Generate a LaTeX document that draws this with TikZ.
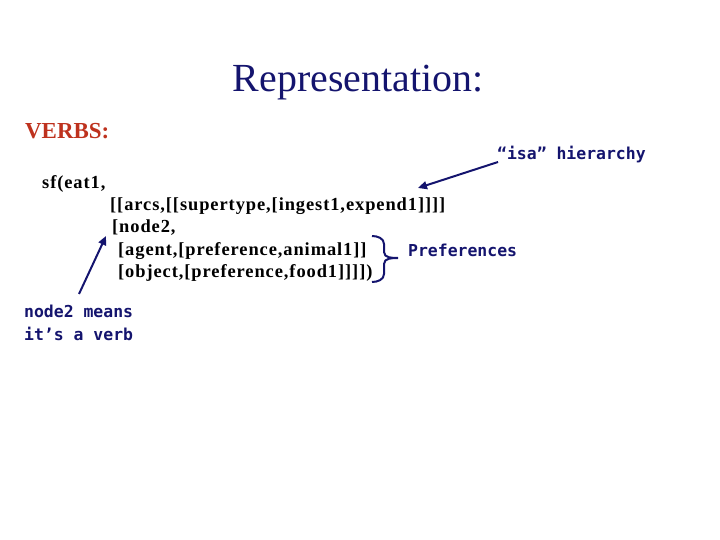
\documentclass[tikz,border=0pt]{standalone}
\usepackage{fontspec}
\setmainfont{Liberation Serif}
\newfontfamily\codefont[LetterSpace=5]{Liberation Serif}
\newfontfamily\annfont{DejaVu Sans Mono}
\usetikzlibrary{arrows.meta}
\definecolor{navy}{RGB}{20,20,110}
\definecolor{verbred}{RGB}{190,50,30}
\tikzset{code/.style={anchor=west,inner sep=0,font=\codefont\bfseries\fontsize{18.5}{20}\selectfont},
ann/.style={anchor=west,inner sep=0,text=navy,font=\annfont\bfseries\fontsize{16.5}{18}\selectfont},
arr/.style={navy,line width=2pt,-{Triangle[length=9pt,width=8pt]}}}
\begin{document}
\begin{tikzpicture}[x=1bp,y=-1bp]
\useasboundingbox (0,0) rectangle (720,540);
\node[inner sep=0,text=navy,font=\fontsize{40}{44}\selectfont] (t) at (358,83) {Representation:};
\node[anchor=west,inner sep=0,text=verbred,font=\bfseries\fontsize{23}{26}\selectfont] (v) at (25,131) {VERBS:};
\node[code] (l1) at (42,184) {sf(eat1,};
\node[code] (l2) at (110,206) {[[arcs,[[supertype,[ingest1,expend1]]]]};
\node[code] (l3) at (112,228) {[node2,};
\node[code] (l4) at (118,251) {[agent,[preference,animal1]]};
\node[code] (l5) at (118,273) {[object,[preference,food1]]]])};
\node[ann] (isa) at (497,155) {“isa” hierarchy};
\node[ann] (pref) at (408,250) {Preferences};
\node[ann] (n1) at (24,311) {node2 means};
\node[ann] (n2) at (24,334) {it’s a verb};
\coordinate (a1s) at (498,162);
\coordinate (a1e) at (418,188);
\draw[arr] (a1s) -- (a1e);
\coordinate (a2s) at (79,294);
\coordinate (a2e) at (106,236);
\draw[arr] (a2s) -- (a2e);
\draw[navy,line width=2pt] (372,236) to[out=0,in=90] (384,244) -- (384,252) to[out=-90,in=180] (398,258) to[out=180,in=90] (384,264) -- (384,274) to[out=-90,in=0] (372,282);
\end{tikzpicture}
\end{document}
